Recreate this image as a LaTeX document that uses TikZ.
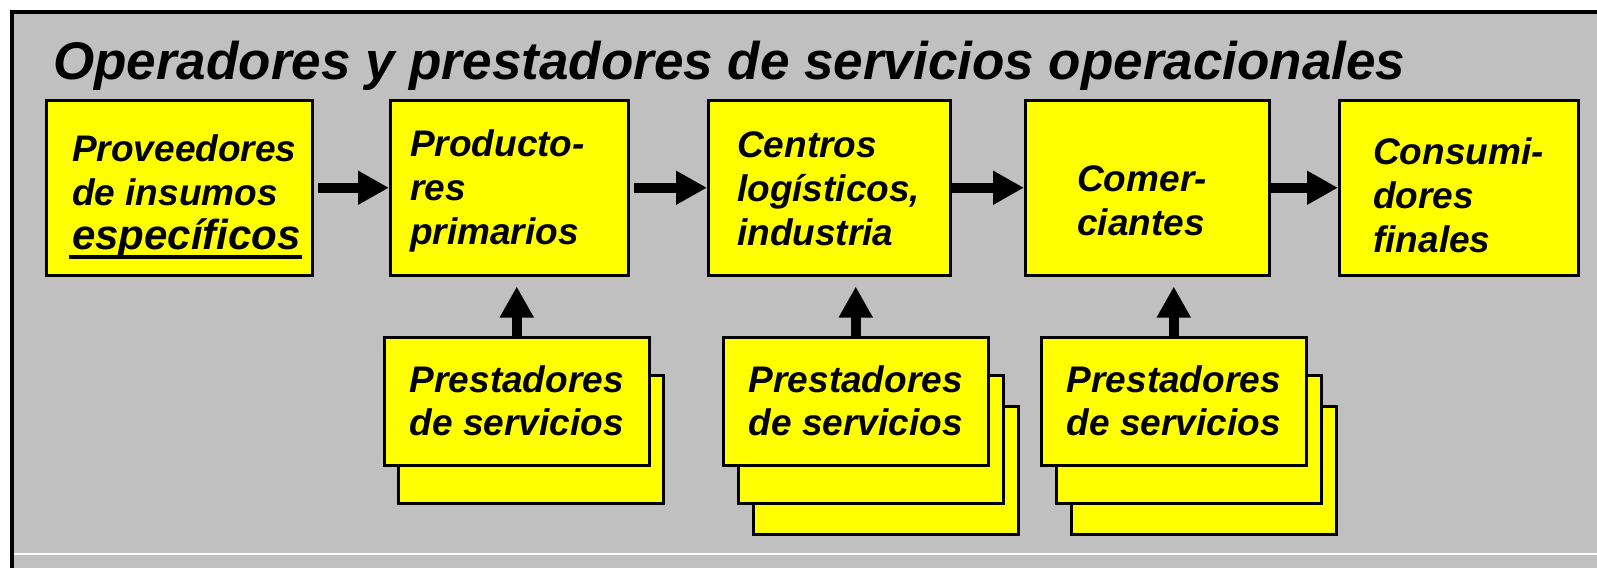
\documentclass[tikz,border=0pt]{standalone}
\usepackage{fontspec}
\setmainfont{Liberation Sans}
\usetikzlibrary{arrows.meta}
\definecolor{gris}{HTML}{C0C0C0}
\definecolor{amarillo}{HTML}{FFFF00}
\newcommand{\subrayar}[1]{\setbox0\hbox{#1}\rlap{\kern-3pt\rule[-10pt]{\dimexpr\wd0+4pt\relax}{4pt}}\box0}

\begin{document}
\begin{tikzpicture}[x=1pt,y=-1pt]
            \tikzstyle{caja} = [draw, line width=2.5pt, fill=amarillo, inner sep=0pt, anchor=north west, minimum height=175pt]
            \tikzstyle{pila} = [draw, line width=2.5pt, fill=amarillo, inner sep=0pt, anchor=north west, minimum width=265pt, minimum height=128pt, align=center, font=\fontsize{37}{43}\selectfont\bfseries\itshape]
            \tikzstyle{texto} = [anchor=base west, align=left, inner sep=0pt, font=\fontsize{37}{44}\selectfont\bfseries\itshape]
            \tikzstyle{flecha} = [line width=10pt, -{Triangle[length=31pt,width=32pt]}]

            \useasboundingbox (0,0) rectangle (1597,568);
            \fill[white] (0,0) rectangle (1597,568);
            \fill[gris] (12,12) rectangle (1597,568);
            \draw[white, line width=1.5pt] (14,554) -- (1597,554);
            \draw[line width=4.5pt] (12,568) -- (12,12) -- (1597,12);

            \node[anchor=base west, inner sep=0pt, font=\fontsize{53}{60}\selectfont\bfseries\itshape](titulo) at (53,79) {Operadores y prestadores de servicios operacionales};

            \node[caja, minimum width=266pt](prov) at (45,99) {};
            \node[caja, minimum width=238pt](prod) at (389,99) {};
            \node[caja, minimum width=242pt](cent) at (707,99) {};
            \node[caja, minimum width=244pt](come) at (1024,99) {};
            \node[caja, minimum width=239pt](cons) at (1338,99) {};

            \node[texto](tprov) at ([shift={(27,150)}]prov.north west) {Proveedores\\de insumos\\[0pt]{\fontsize{42}{48}\selectfont\subrayar{específicos}}};
            \node[texto](tprod) at ([shift={(21,145)}]prod.north west) {Producto-\\res\\primarios};
            \node[texto](tcent) at ([shift={(30,146)}]cent.north west) {Centros\\logísticos,\\industria};
            \node[texto](tcome) at ([shift={(53,136)}]come.north west) {Comer-\\ciantes};
            \node[texto](tcons) at ([shift={(35,153)}]cons.north west) {Consumi-\\dores\\finales};

            \node[pila](ps1b) at (397,374) {};
            \node[pila](ps1) at (383,336) {Prestadores\\de servicios};
            \node[pila](ps2c) at (752,405) {};
            \node[pila](ps2b) at (737,374) {};
            \node[pila](ps2) at (722,336) {Prestadores\\de servicios};
            \node[pila](ps3c) at (1070,405) {};
            \node[pila](ps3b) at (1055,374) {};
            \node[pila](ps3) at (1040,336) {Prestadores\\de servicios};

            \draw[flecha] ([xshift=4pt]prov.east) -- (prod.west);
            \draw[flecha] ([xshift=4pt]prod.east) -- (cent.west);
            \draw[flecha] (cent.east) -- (come.west);
            \draw[flecha] (come.east) -- (cons.west);

            \draw[flecha, shorten >=10pt] (ps1.north) -- (ps1.north |- prod.south);
            \draw[flecha, shorten >=10pt] (ps2.north) -- (ps2.north |- cent.south);
            \draw[flecha, shorten >=10pt] (ps3.north) -- (ps3.north |- come.south);
      \end{tikzpicture}
\end{document}
